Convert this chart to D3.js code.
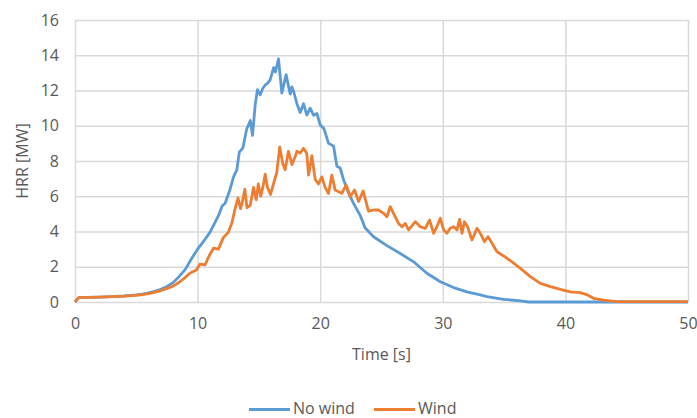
<!DOCTYPE html>
<html>
<head>
<meta charset="utf-8">
<script src="https://cdn.jsdelivr.net/npm/d3@7"></script>
<style>
  html, body { margin: 0; padding: 0; background: #fff; }
  svg { display: block; }
  text { font-family: "Open Sans", "Noto Sans", sans-serif; fill: #595959; }
</style>
</head>
<body>
<svg id="chart" width="697" height="418"></svg>
<script>
// ---- data ----
const seriesNames = ["No wind", "Wind"];
const xTicks = [0, 10, 20, 30, 40, 50];
const yTicks = [0, 2, 4, 6, 8, 10, 12, 14, 16];

const timeNoWind = [0, 0.3, 1, 2, 3, 4, 5, 5.5, 6, 6.5, 7, 7.5, 8, 8.5, 9, 9.5, 10, 10.5, 11, 11.3, 11.7, 12, 12.25, 12.65, 12.93, 13.2, 13.4, 13.7, 14.0, 14.3, 14.48, 14.7, 14.88, 15.1, 15.3, 15.5, 15.7, 15.92, 16.2, 16.35, 16.6, 16.87, 17.22, 17.55, 17.7, 17.85, 18.1, 18.37, 18.64, 18.91, 19.18, 19.46, 19.73, 20.0, 20.3, 20.68, 21.09, 21.36, 21.63, 21.9, 22.3, 22.72, 23.27, 23.67, 24.35, 25.44, 26.53, 27.62, 28.7, 29.8, 30.88, 31.97, 33.06, 33.6, 34.96, 36.33, 37, 50];
const hrrNoWind = [0, 0.25, 0.26, 0.28, 0.3, 0.34, 0.4, 0.45, 0.52, 0.6, 0.72, 0.88, 1.1, 1.45, 1.85, 2.45, 3.0, 3.45, 3.95, 4.35, 4.9, 5.45, 5.6, 6.4, 7.1, 7.5, 8.5, 8.75, 9.8, 10.3, 9.45, 11.2, 12.05, 11.75, 12.1, 12.3, 12.4, 12.6, 13.3, 13.05, 13.8, 11.85, 12.9, 11.8, 12.2, 11.9, 11.25, 10.75, 11.25, 10.6, 11.0, 10.6, 10.7, 10.05, 9.85, 9.0, 8.85, 7.7, 7.6, 6.95, 6.2, 5.6, 4.9, 4.2, 3.7, 3.2, 2.75, 2.28, 1.63, 1.15, 0.82, 0.57, 0.4, 0.3, 0.15, 0.06, 0, 0];

const timeWind = [0, 0.3, 1, 2, 3, 4, 5, 5.5, 6, 6.5, 7, 7.5, 8, 8.5, 9, 9.4, 9.9, 10.2, 10.6, 11.0, 11.3, 11.7, 12.1, 12.5, 12.8, 13.06, 13.3, 13.5, 13.66, 13.85, 14.03, 14.3, 14.56, 14.78, 14.95, 15.15, 15.35, 15.51, 15.7, 15.95, 16.19, 16.46, 16.7, 16.95, 17.14, 17.41, 17.7, 17.96, 18.1, 18.37, 18.64, 18.9, 19.05, 19.32, 19.59, 19.86, 20.13, 20.4, 20.68, 20.95, 21.22, 21.5, 21.77, 22.12, 22.45, 22.8, 23.13, 23.5, 23.94, 24.35, 24.76, 25.17, 25.44, 25.71, 25.98, 26.39, 26.67, 26.94, 27.21, 27.76, 28.16, 28.57, 28.92, 29.25, 29.52, 29.8, 30.07, 30.34, 30.6, 30.88, 31.16, 31.37, 31.57, 31.76, 32.02, 32.38, 32.79, 33.06, 33.39, 33.69, 34.01, 34.42, 34.83, 35.24, 35.78, 36.33, 37.14, 37.96, 38.78, 39.59, 40.4, 41.2, 41.8, 42.3, 43.1, 44.2, 50];
const hrrWind = [0, 0.25, 0.26, 0.28, 0.3, 0.33, 0.38, 0.42, 0.48, 0.55, 0.65, 0.77, 0.9, 1.12, 1.4, 1.65, 1.82, 2.15, 2.1, 2.7, 3.05, 3.0, 3.65, 3.95, 4.5, 5.3, 5.9, 5.3, 5.7, 6.4, 5.35, 5.5, 6.5, 5.8, 6.7, 6.0, 6.6, 7.25, 6.5, 6.1, 6.7, 7.35, 8.8, 7.85, 7.5, 8.55, 7.8, 8.25, 8.55, 8.45, 8.72, 8.44, 7.2, 8.3, 6.95, 6.7, 7.1, 6.5, 6.15, 7.2, 6.35, 6.26, 6.17, 6.64, 5.97, 6.35, 5.7, 6.3, 5.15, 5.22, 5.22, 5.03, 4.84, 5.41, 5.03, 4.46, 4.27, 4.46, 4.09, 4.56, 4.27, 4.18, 4.65, 3.9, 4.27, 4.75, 4.09, 3.9, 4.18, 4.27, 4.09, 4.69, 3.9, 4.56, 4.27, 3.52, 4.18, 3.9, 3.42, 3.71, 3.33, 2.85, 2.67, 2.48, 2.2, 1.91, 1.44, 1.06, 0.87, 0.72, 0.58, 0.53, 0.4, 0.21, 0.11, 0.02, 0.02];

const colors = ["#5B9BD5", "#ED7D31"];

// ---- layout ----
const svg = d3.select("#chart");
const plotLeft = 75, plotRight = 688, plotTop = 20, plotBottom = 302;
const fontSize = 16;
const fontFamily = '"Open Sans", "Noto Sans", sans-serif';

const x = d3.scaleLinear().domain([0, 50]).range([plotLeft, plotRight]);
const y = d3.scaleLinear().domain([0, 16]).range([plotBottom, plotTop]);

// gridlines
svg.append("g")
  .attr("transform", `translate(0,${plotBottom})`)
  .call(d3.axisBottom(x).tickValues(xTicks).tickSize(-(plotBottom - plotTop)).tickFormat(""))
  .call(g => g.select(".domain").remove())
  .call(g => g.selectAll("line").attr("stroke", "#d9d9d9").attr("stroke-width", 1.5));

svg.append("g")
  .attr("transform", `translate(${plotLeft},0)`)
  .call(d3.axisLeft(y).tickValues(yTicks).tickSize(-(plotRight - plotLeft)).tickFormat(""))
  .call(g => g.select(".domain").remove())
  .call(g => g.selectAll("line").attr("stroke", "#d9d9d9").attr("stroke-width", 1.5));

// tick labels
const xAxis = svg.append("g")
  .attr("transform", `translate(0,${plotBottom})`)
  .call(d3.axisBottom(x).tickValues(xTicks).tickSize(0).tickPadding(16).tickFormat(d3.format("d")));
xAxis.select(".domain").remove();
xAxis.selectAll("text").attr("font-size", fontSize).attr("fill", "#595959")
  .style("font-family", fontFamily);

const yAxis = svg.append("g")
  .attr("transform", `translate(${plotLeft},0)`)
  .call(d3.axisLeft(y).tickValues(yTicks).tickSize(0).tickPadding(16).tickFormat(d3.format("d")));
yAxis.select(".domain").remove();
yAxis.selectAll("text").attr("font-size", fontSize).attr("fill", "#595959")
  .style("font-family", fontFamily);

// lines
const line = d3.line().x(d => x(d[0])).y(d => y(d[1]));
const seriesData = [
  d3.zip(timeNoWind, hrrNoWind),
  d3.zip(timeWind, hrrWind)
];
seriesData.forEach((s, i) => {
  svg.append("path")
    .datum(s)
    .attr("fill", "none")
    .attr("stroke", colors[i])
    .attr("stroke-width", 2.8)
    .attr("stroke-linejoin", "round")
    .attr("d", line);
});

// axis titles
svg.append("text")
  .attr("x", (plotLeft + plotRight) / 2)
  .attr("y", 360)
  .attr("text-anchor", "middle")
  .attr("font-size", fontSize)
  .text("Time [s]");

svg.append("text")
  .attr("transform", `translate(28,${(plotTop + plotBottom) / 2}) rotate(-90)`)
  .attr("text-anchor", "middle")
  .attr("font-size", fontSize)
  .text("HRR [MW]");

// legend
const legendItems = [
  { name: seriesNames[0], x0: 249, color: colors[0] },
  { name: seriesNames[1], x0: 374, color: colors[1] }
];
legendItems.forEach(it => {
  svg.append("line")
    .attr("x1", it.x0).attr("x2", it.x0 + 41)
    .attr("y1", 409.5).attr("y2", 409.5)
    .attr("stroke", it.color).attr("stroke-width", 2.8);
  svg.append("text")
    .attr("x", it.x0 + 44)
    .attr("y", 414)
    .attr("font-size", fontSize)
    .text(it.name);
});
</script>
</body>
</html>
